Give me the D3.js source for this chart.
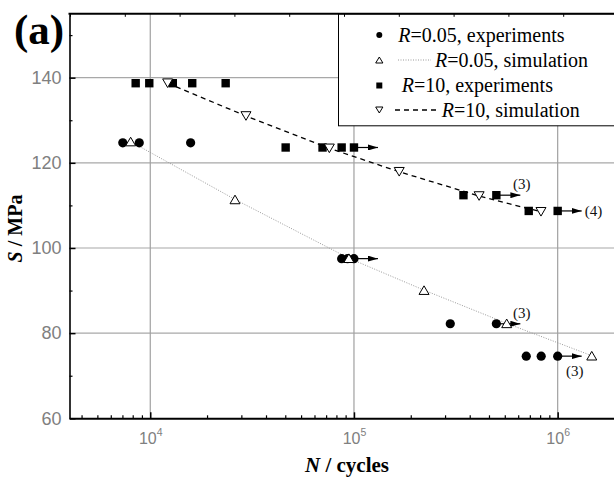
<!DOCTYPE html>
<html>
<head>
<meta charset="utf-8">
<script src="https://cdn.jsdelivr.net/npm/d3@7"></script>
<style>
  body { margin: 0; background: #fff; }
  svg { display: block; }
  .serif { font-family: "Liberation Serif", "DejaVu Serif", serif; }
  .sans { font-family: "Liberation Sans", "DejaVu Sans", sans-serif; }
</style>
</head>
<body>
<svg id="chart" width="614" height="479"></svg>
<script>
// ---- Fatigue data: N (cycles) and S (MPa) ----
// R = 0.05, experiments
const r005ExpN = [7330, 8830, 15780, 87000, 93000, 100000, 297000, 500000, 701000, 830000, 1000000];
const r005ExpS = [124.7, 124.7, 124.7, 97.5, 97.5, 97.5, 82.2, 82.2, 74.6, 74.6, 74.6];
// R = 0.05, simulation
const r005SimN = [8010, 26060, 94400, 220800, 562000, 1470000];
const r005SimS = [125.0, 111.4, 97.6, 90.1, 82.3, 74.7];
// R = 10, experiments
const r10ExpN = [8480, 9890, 12900, 16070, 23450, 46200, 70100, 87000, 100000, 344700, 500000, 721000, 1000000];
const r10ExpS = [138.7, 138.7, 138.7, 138.7, 138.7, 123.6, 123.6, 123.6, 123.6, 112.4, 112.4, 108.7, 108.7];
// R = 10, simulation
const r10SimN = [12170, 29500, 75700, 166800, 411500, 828000];
const r10SimS = [138.7, 131.0, 123.4, 117.9, 112.2, 108.5];
// Run-outs (unbroken specimens) and the number of specimens they stand for
const runoutN = [100000, 500000, 1000000, 100000, 500000, 1000000];
const runoutS = [123.6, 112.4, 108.7, 97.5, 82.2, 74.6];
const runoutCount = ["", "(3)", "(4)", "", "(3)", "(3)"];
const runoutLabelSide = ["", "above", "right", "", "above", "below"];

// Axis ticks
const yMajorTicks = [60, 80, 100, 120, 140];
const yMinorTicks = [70, 90, 110, 130, 150];
const yGridTicks = [80, 100, 120, 140];
const xMajorTicks = [1e4, 1e5, 1e6];
const xDecades = [1e3, 1e4, 1e5, 1e6];
const legendLabels = [
  ["R", "=0.05, experiments"],
  ["R", "=0.05, simulation"],
  ["R", "=10, experiments"],
  ["R", "=10, simulation"]
];

const svg = d3.select("#chart");
svg.append("rect").attr("width", 614).attr("height", 479).attr("fill", "#fff");

const plotLeft = 69.5, plotTop = 13.8, plotBottom = 418.3;
const x = d3.scaleLog().domain([4000, 2e6]).range([69.2, 619]);
const y = d3.scaleLinear().domain([60, 155]).range([plotBottom, plotTop]);
const plotRight = 620;

// minor ticks split every decade into ten equal linear steps
const xMinorTicks = [];
xDecades.forEach(b => d3.range(1, 10).forEach(k => {
  const v = b * (1 + 0.9 * k);
  if (v >= x.domain()[0] && v < x.domain()[1] && !xMajorTicks.includes(v)) xMinorTicks.push(v);
}));
// evenly spaced ticks along the top frame
const topScale = d3.scaleLinear().domain([0, 10]).range([70, 618]);

const grid = svg.append("g");
grid.selectAll("line.h").data(yGridTicks).join("line")
  .attr("x1", plotLeft).attr("x2", plotRight)
  .attr("y1", d => y(d)).attr("y2", d => y(d))
  .attr("stroke", "#a8a8a8").attr("stroke-width", 1.2);
grid.selectAll("line.v").data(xMajorTicks).join("line")
  .attr("x1", d => x(d)).attr("x2", d => x(d))
  .attr("y1", plotTop).attr("y2", plotBottom)
  .attr("stroke", "#a0a0a0").attr("stroke-width", 1.2);

// simulation curves
const pts = (ns, ss) => ns.map((n, i) => [x(n), y(ss[i])]);
const line = d3.line();
svg.append("path").attr("d", line(pts(r005SimN, r005SimS)))
  .attr("fill", "none").attr("stroke", "#9a9a9a").attr("stroke-width", 1)
  .attr("stroke-dasharray", "1,1.5");
svg.append("path").attr("d", line(pts(r10SimN, r10SimS)))
  .attr("fill", "none").attr("stroke", "#000").attr("stroke-width", 1.3)
  .attr("stroke-dasharray", "5,4");

// marker shapes
const triUp = (w, h) => `M0,${-h/2}L${w},${h/2}L${-w},${h/2}Z`;
const triDown = (w, h) => `M0,${h/2}L${w},${-h/2}L${-w},${-h/2}Z`;
const squareP = s => `M${-s/2},${-s/2}h${s}v${s}h${-s}Z`;

// run-out arrows
const defs = svg.append("defs");
defs.append("marker").attr("id", "arrowHead")
  .attr("viewBox", "0 0 10 6").attr("refX", 10).attr("refY", 3)
  .attr("markerWidth", 10).attr("markerHeight", 6)
  .attr("markerUnits", "userSpaceOnUse").attr("orient", "auto")
  .append("path").attr("d", "M0,0L10,3L0,6Z").attr("fill", "#000");
const arrowLen = 24;
const runouts = runoutN.map((n, i) => ({ n, s: runoutS[i], label: runoutCount[i], side: runoutLabelSide[i] }));
svg.selectAll("line.runout").data(runouts).join("line")
  .attr("x1", d => x(d.n)).attr("x2", d => x(d.n) + arrowLen)
  .attr("y1", d => y(d.s)).attr("y2", d => y(d.s))
  .attr("stroke", "#000").attr("stroke-width", 1.2)
  .attr("marker-end", "url(#arrowHead)");
svg.selectAll("text.runout").data(runouts.filter(d => d.label)).join("text")
  .attr("class", "serif")
  .attr("x", d => x(d.n) + arrowLen + (d.side === "right" ? 3 : d.side === "below" ? -7 : 1.5))
  .attr("y", d => y(d.s) + (d.side === "above" ? -6 : d.side === "below" ? 19.5 : 5))
  .attr("text-anchor", d => d.side === "right" ? "start" : "middle")
  .attr("font-size", 15).attr("fill", "#111")
  .text(d => d.label);

// experiments
svg.selectAll("circle.r005").data(r005ExpN).join("circle")
  .attr("cx", d => x(d)).attr("cy", (d, i) => y(r005ExpS[i])).attr("r", 4.6)
  .attr("fill", "#000");
svg.selectAll("path.r10").data(r10ExpN).join("path")
  .attr("transform", (d, i) => `translate(${x(d)},${y(r10ExpS[i])})`)
  .attr("d", squareP(8.4)).attr("fill", "#000");

// simulations
svg.selectAll("path.sim005").data(r005SimN).join("path")
  .attr("transform", (d, i) => `translate(${x(d)},${y(r005SimS[i])})`)
  .attr("d", triUp(5, 8.6)).attr("fill", "#fff").attr("stroke", "#000").attr("stroke-width", 1);
svg.selectAll("path.sim10").data(r10SimN).join("path")
  .attr("transform", (d, i) => `translate(${x(d)},${y(r10SimS[i])})`)
  .attr("d", triDown(5, 8.6)).attr("fill", "#fff").attr("stroke", "#000").attr("stroke-width", 1);

// legend
const lg = svg.append("g");
lg.append("rect").attr("x", 338.5).attr("y", plotTop).attr("width", 300).attr("height", 112)
  .attr("fill", "#fff").attr("stroke", "#000").attr("stroke-width", 1);
const lx = 379.3, rowY = [35, 60, 85.5, 110];
lg.append("circle").attr("cx", lx).attr("cy", rowY[0]).attr("r", 3).attr("fill", "#000");
lg.append("path").attr("transform", `translate(${lx},${rowY[1]})`).attr("d", triUp(3.6, 6))
  .attr("fill", "#fff").attr("stroke", "#000").attr("stroke-width", 1);
lg.append("path").attr("transform", `translate(${lx},${rowY[2]})`).attr("d", squareP(6)).attr("fill", "#000");
lg.append("path").attr("transform", `translate(${lx},${rowY[3]})`).attr("d", triDown(3.6, 6))
  .attr("fill", "#fff").attr("stroke", "#000").attr("stroke-width", 1);
lg.append("line").attr("x1", 398).attr("x2", 431).attr("y1", rowY[1]).attr("y2", rowY[1])
  .attr("stroke", "#9a9a9a").attr("stroke-width", 1).attr("stroke-dasharray", "1,1.5");
lg.append("line").attr("x1", 395).attr("x2", 440).attr("y1", rowY[3]).attr("y2", rowY[3])
  .attr("stroke", "#000").attr("stroke-width", 1.3).attr("stroke-dasharray", "5,4");
const textX = [398.3, 435, 401.7, 441.7];
legendLabels.forEach((lab, i) => {
  const t = lg.append("text").attr("class", "serif").attr("x", textX[i]).attr("y", rowY[i] + 6.7)
    .attr("font-size", 20).attr("fill", "#000");
  t.append("tspan").attr("font-style", "italic").text(lab[0]);
  t.append("tspan").text(lab[1]);
});

// axes
const gx = svg.append("g").attr("transform", `translate(0,${plotBottom})`)
  .call(d3.axisBottom(x).tickValues(xMajorTicks).tickSize(-6).tickSizeOuter(0).tickFormat(""));
gx.select(".domain").attr("stroke", "#000").attr("stroke-width", 2);
gx.selectAll(".tick line").attr("stroke", "#000").attr("stroke-width", 1.5);
gx.selectAll(".tick text").remove();
gx.selectAll(".tick").append("text")
  .attr("class", "sans")
  .attr("y", 26).attr("text-anchor", "middle").attr("fill", "#808080")
  .attr("font-size", 16)
  .each(function (d) {
    const t = d3.select(this);
    t.append("tspan").text("10");
    t.append("tspan").attr("dy", -8).attr("font-size", 10.5).text(Math.round(Math.log10(d)));
  });
const gxm = svg.append("g").attr("transform", `translate(0,${plotBottom})`)
  .call(d3.axisBottom(x).tickValues(xMinorTicks).tickSize(-3).tickSizeOuter(0).tickFormat(""));
gxm.select(".domain").remove();
gxm.selectAll(".tick line").attr("stroke", "#000").attr("stroke-width", 1.2);

const gt = svg.append("g").attr("transform", `translate(0,${plotTop})`)
  .call(d3.axisTop(topScale).ticks(10).tickSize(-3).tickSizeOuter(0).tickFormat(""));
gt.select(".domain").remove();
gt.selectAll(".tick line").attr("stroke", "#000").attr("stroke-width", 1);
svg.append("line").attr("x1", plotLeft - 1).attr("x2", plotRight).attr("y1", plotTop).attr("y2", plotTop)
  .attr("stroke", "#000").attr("stroke-width", 2);

const gy = svg.append("g").attr("transform", `translate(${plotLeft},0)`)
  .call(d3.axisLeft(y).tickValues(yMajorTicks).tickSize(-6).tickSizeOuter(0).tickPadding(8));
gy.attr("font-family", null).attr("font-size", null);
gy.select(".domain").attr("stroke", "#000").attr("stroke-width", 1.6);
gy.selectAll(".tick line").attr("stroke", "#000").attr("stroke-width", 1.5);
gy.selectAll(".tick text").attr("class", "sans").attr("fill", "#808080").attr("font-size", 18);
const gym = svg.append("g").attr("transform", `translate(${plotLeft},0)`)
  .call(d3.axisLeft(y).tickValues(yMinorTicks).tickSize(-3).tickSizeOuter(0).tickFormat(""));
gym.select(".domain").remove();
gym.selectAll(".tick line").attr("stroke", "#000").attr("stroke-width", 1.2);
gx.attr("font-family", null).attr("font-size", null);

// titles
const xt = svg.append("text").attr("class", "serif").attr("x", 347).attr("y", 472).attr("text-anchor", "middle")
  .attr("font-size", 21).attr("font-weight", "bold");
xt.append("tspan").attr("font-style", "italic").text("N");
xt.append("tspan").text(" / cycles");
const yt = svg.append("text").attr("class", "serif").attr("transform", "translate(22,228.5) rotate(-90)")
  .attr("text-anchor", "middle").attr("font-size", 20).attr("font-weight", "bold");
yt.append("tspan").attr("font-style", "italic").text("S");
yt.append("tspan").text(" / MPa");
svg.append("text").attr("class", "serif").attr("x", 14).attr("y", 44)
  .attr("font-size", 43).attr("font-weight", "bold").text("(a)");
</script>
</body>
</html>
